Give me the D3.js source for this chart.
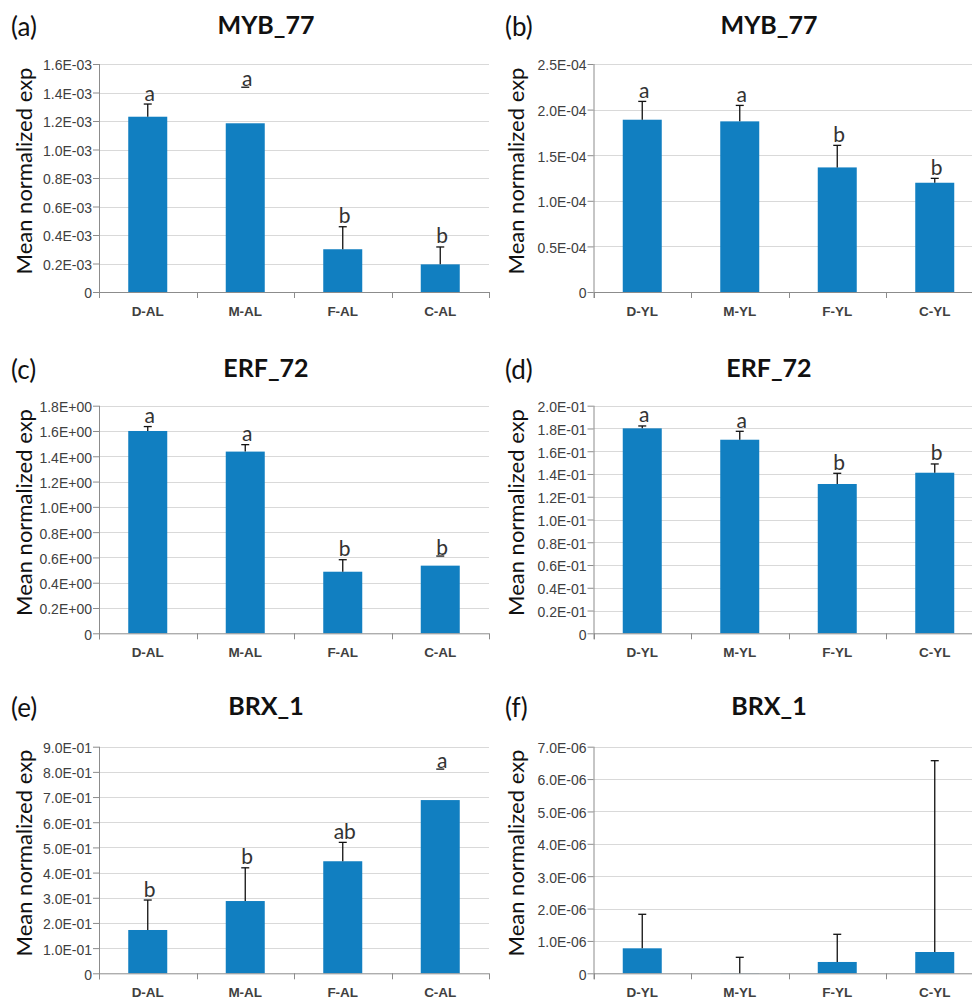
<!DOCTYPE html>
<html>
<head>
<meta charset="utf-8">
<script src="https://cdn.jsdelivr.net/npm/d3@7"></script>
<style>
  body { margin: 0; background: #fff; }
  svg { display: block; font-family: Lato, "Open Sans", sans-serif; }
</style>
</head>
<body>
<svg id="chart" width="972" height="1004"></svg>
<script>
// ---- data ----
var catsAL = ["D-AL", "M-AL", "F-AL", "C-AL"];
var catsYL = ["D-YL", "M-YL", "F-YL", "C-YL"];

var panelTags = ["(a)", "(b)", "(c)", "(d)", "(e)", "(f)"];
var genes = ["MYB_77", "MYB_77", "ERF_72", "ERF_72", "BRX_1", "BRX_1"];

// tick labels per panel (values run evenly from 0 to yMax)
var ticksA = ["0", "0.2E-03", "0.4E-03", "0.6E-03", "0.8E-03", "1.0E-03", "1.2E-03", "1.4E-03", "1.6E-03"];
var ticksB = ["0", "0.5E-04", "1.0E-04", "1.5E-04", "2.0E-04", "2.5E-04"];
var ticksC = ["0", "0.2E+00", "0.4E+00", "0.6E+00", "0.8E+00", "1.0E+00", "1.2E+00", "1.4E+00", "1.6E+00", "1.8E+00"];
var ticksD = ["0", "0.2E-01", "0.4E-01", "0.6E-01", "0.8E-01", "1.0E-01", "1.2E-01", "1.4E-01", "1.6E-01", "1.8E-01", "2.0E-01"];
var ticksE = ["0", "1.0E-01", "2.0E-01", "3.0E-01", "4.0E-01", "5.0E-01", "6.0E-01", "7.0E-01", "8.0E-01", "9.0E-01"];
var ticksF = ["0", "1.0E-06", "2.0E-06", "3.0E-06", "4.0E-06", "5.0E-06", "6.0E-06", "7.0E-06"];
var yMax = [1.6e-3, 2.5e-4, 1.8, 0.2, 0.9, 7e-6];

// means
var meanA = [1.230e-3, 1.184e-3, 0.300e-3, 0.194e-3];
var meanB = [1.889e-4, 1.871e-4, 1.366e-4, 1.198e-4];
var meanC = [1.600, 1.437, 0.487, 0.535];
var meanD = [0.1801, 0.1701, 0.1312, 0.1411];
var meanE = [0.172, 0.287, 0.445, 0.688];
var meanF = [0.772e-6, 0.005e-6, 0.350e-6, 0.658e-6];

// error (upper)
var errA = [0.089e-3, 0.253e-3, 0.158e-3, 0.122e-3];
var errB = [0.201e-4, 0.175e-4, 0.242e-4, 0.048e-4];
var errC = [0.035, 0.055, 0.095, 0.076];
var errD = [0.0021, 0.0074, 0.0094, 0.0077];
var errE = [0.119, 0.132, 0.075, 0.123];
var errF = [1.051e-6, 0.489e-6, 0.855e-6, 5.91e-6];

// significance letters
var letA = ["a", "a", "b", "b"];
var letB = ["a", "a", "b", "b"];
var letC = ["a", "a", "b", "b"];
var letD = ["a", "a", "b", "b"];
var letE = ["b", "b", "ab", "a"];
var letF = ["", "", "", ""];

// bars whose error bar shows only the cap
var capOnlyA = [false, true, false, false];
var capOnlyC = [false, false, false, true];
var capOnlyE = [false, false, false, true];
var capOnlyNone = [false, false, false, false];

var panels = [
  { cats: catsAL, ticks: ticksA, mean: meanA, err: errA, lets: letA, capOnly: capOnlyA },
  { cats: catsYL, ticks: ticksB, mean: meanB, err: errB, lets: letB, capOnly: capOnlyNone },
  { cats: catsAL, ticks: ticksC, mean: meanC, err: errC, lets: letC, capOnly: capOnlyC },
  { cats: catsYL, ticks: ticksD, mean: meanD, err: errD, lets: letD, capOnly: capOnlyNone },
  { cats: catsAL, ticks: ticksE, mean: meanE, err: errE, lets: letE, capOnly: capOnlyE },
  { cats: catsYL, ticks: ticksF, mean: meanF, err: errF, lets: letF, capOnly: capOnlyNone }
];

// ---- layout ----
var cols = [
  { axisX: 99, titleX: 266, tagX: 11, ylabX: 24 },
  { axisX: 593.5, titleX: 769, tagX: 505, ylabX: 516 }
];
var rows = [
  { top: 64, bottom: 292, titleY: 25, tagY: 27 },
  { top: 405.7, bottom: 633.3, titleY: 368, tagY: 370 },
  { top: 746.7, bottom: 973.3, titleY: 706, tagY: 708 }
];
var plotW = 390;
var barColor = "#117fc1";

var svg = d3.select("#chart");

panels.forEach(function (p, i) {
  var col = cols[i % 2], row = rows[Math.floor(i / 2)];
  var g = svg.append("g");

  var x = d3.scaleBand().domain(p.cats)
    .range([col.axisX, col.axisX + plotW])
    .paddingInner(0.6).paddingOuter(0.3);
  var y = d3.scaleLinear().domain([0, yMax[i]]).range([row.bottom, row.top]);
  var tickVals = p.ticks.map(function (t, k) { return yMax[i] * k / (p.ticks.length - 1); });

  // gridlines
  g.append("g").selectAll("line")
    .data(tickVals.slice(1))
    .enter().append("line")
    .attr("x1", col.axisX).attr("x2", col.axisX + plotW)
    .attr("y1", function (d) { return Math.round(y(d)) + 0.5; })
    .attr("y2", function (d) { return Math.round(y(d)) + 0.5; })
    .attr("stroke", "#d9d9d9").attr("stroke-width", 1);

  // bars
  var data = p.cats.map(function (c, k) {
    return { cat: c, v: p.mean[k], e: p.err[k], l: p.lets[k], capOnly: p.capOnly[k] };
  });
  g.append("g").selectAll("rect")
    .data(data)
    .enter().append("rect")
    .attr("x", function (d) { return x(d.cat); })
    .attr("width", x.bandwidth())
    .attr("y", function (d) { return y(d.v); })
    .attr("height", function (d) { return y(0) - y(d.v); })
    .attr("fill", barColor);

  // y axis
  var yAxis = g.append("g")
    .attr("transform", "translate(" + col.axisX + ",0)")
    .call(d3.axisLeft(y).tickValues(tickVals)
      .tickFormat(function (d, k) { return p.ticks[k]; })
      .tickSize(6).tickPadding(1));
  yAxis.select(".domain").attr("stroke", "#8c8c8c")
    .attr("d", "M0.5," + (row.top) + "V" + (row.bottom + 6));
  yAxis.selectAll(".tick line").attr("stroke", "#8c8c8c");
  yAxis.selectAll(".tick text")
    .attr("fill", "#404040")
    .attr("dy", "0.42em")
    .style("font-size", "14px");

  // x axis
  var xAxis = g.append("g")
    .attr("transform", "translate(0," + row.bottom + ")")
    .call(d3.axisBottom(x).tickSize(0).tickPadding(14));
  xAxis.select(".domain").attr("stroke", "#8c8c8c")
    .attr("d", "M" + col.axisX + ",0.5H" + (col.axisX + plotW));
  xAxis.selectAll(".tick text")
    .attr("fill", "#404040")
    .style("font-size", "13.5px")
    .style("font-weight", "bold");
  // category boundary ticks
  xAxis.append("g").selectAll("line")
    .data(d3.range(p.cats.length + 1))
    .enter().append("line")
    .attr("x1", function (k) { return Math.round(col.axisX + k * plotW / p.cats.length) + 0.5; })
    .attr("x2", function (k) { return Math.round(col.axisX + k * plotW / p.cats.length) + 0.5; })
    .attr("y1", 0).attr("y2", 6)
    .attr("stroke", "#8c8c8c");

  // error bars
  var eb = g.append("g").selectAll("g")
    .data(data)
    .enter().append("g")
    .attr("stroke", "#111").attr("stroke-width", 1.3);
  eb.filter(function (d) { return !d.capOnly; })
    .append("line")
    .attr("x1", function (d) { return x(d.cat) + x.bandwidth() / 2; })
    .attr("x2", function (d) { return x(d.cat) + x.bandwidth() / 2; })
    .attr("y1", function (d) { return y(d.v); })
    .attr("y2", function (d) { return y(d.v + d.e); });
  eb.append("line")
    .attr("x1", function (d) { return x(d.cat) + x.bandwidth() / 2 - 4; })
    .attr("x2", function (d) { return x(d.cat) + x.bandwidth() / 2 + 4; })
    .attr("y1", function (d) { return y(d.v + d.e); })
    .attr("y2", function (d) { return y(d.v + d.e); });

  // letters
  g.append("g").selectAll("text")
    .data(data)
    .enter().append("text")
    .attr("x", function (d) { return x(d.cat) + x.bandwidth() / 2 + 2; })
    .attr("y", function (d) { return y(d.v + d.e) - (d.capOnly ? 1.5 : 3.5); })
    .attr("text-anchor", "middle")
    .attr("fill", "#333")
    .style("font-size", "21px")
    .text(function (d) { return d.l; });

  // y label
  g.append("text")
    .attr("transform", "translate(" + col.ylabX + "," + ((row.top + row.bottom) / 2 - 7) + ") rotate(-90)")
    .attr("text-anchor", "middle")
    .attr("dy", "0.35em")
    .attr("fill", "#111")
    .style("font-size", "22px")
    .text("Mean normalized exp");

  // title and tag
  g.append("text")
    .attr("x", col.titleX).attr("y", row.titleY)
    .attr("dy", "0.35em")
    .attr("text-anchor", "middle")
    .attr("fill", "#111")
    .style("font-size", "25px").style("font-weight", "bold")
    .text(genes[i]);
  g.append("text")
    .attr("x", col.tagX).attr("y", row.tagY)
    .attr("dy", "0.35em")
    .attr("fill", "#111")
    .style("font-size", "26px")
    .text(panelTags[i]);
});
</script>
</body>
</html>
